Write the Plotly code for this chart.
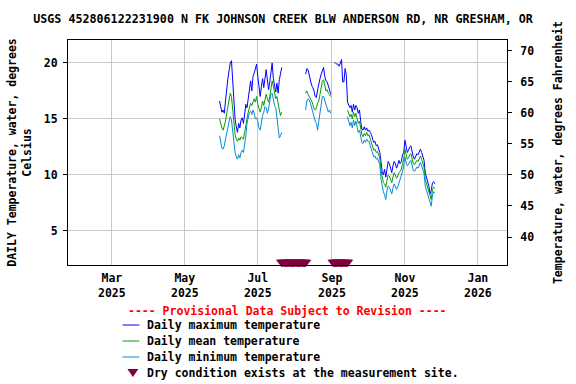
import pandas as pd
import plotly.graph_objects as go

TITLE = "USGS 452806122231900 N FK JOHNSON CREEK BLW ANDERSON RD, NR GRESHAM, OR"

# ---------------- data (daily values, degrees Celsius) ----------------
seg1_start = "2025-05-30"
seg1_max = [16.6, 16.0, 15.6, 15.8, 15.5, 16.6, 17.8, 18.6, 19.3, 20.0,
            20.2, 18.4, 16.6, 15.0, 14.3, 13.8, 14.6, 14.2, 14.9, 15.1,
            14.6, 15.5, 16.3, 16.0, 17.0, 17.6, 18.4, 17.5, 18.8, 19.1,
            19.5, 19.9, 18.8, 17.6, 17.0, 17.9, 18.6, 17.8, 18.9, 19.4,
            18.5, 17.6, 18.3, 19.5, 20.0, 18.6, 18.0, 17.4, 18.2, 17.3,
            18.5, 19.0, 19.6]
seg1_mean = [15.0, 14.5, 14.2, 14.0, 14.3, 14.8, 15.5, 16.2, 16.8, 17.3,
             17.0, 15.8, 14.5, 13.6, 13.2, 13.0, 13.3, 13.1, 13.4, 13.3,
             13.2, 13.8, 14.6, 15.0, 15.6, 15.9, 16.4, 16.2, 16.6, 16.8,
             16.5, 17.0, 16.3, 15.8, 15.6, 16.0, 16.6, 16.2, 16.8, 17.2,
             16.8, 16.5, 17.0, 17.8, 18.4, 17.9, 17.4, 16.8, 17.0, 16.2,
             15.8, 15.3, 15.6]
seg1_min = [13.5, 12.8, 12.4, 12.3, 12.6, 13.2, 13.9, 14.2, 14.8, 15.2,
            14.9, 13.8, 12.8, 12.0, 11.6, 11.4, 11.8, 11.5, 12.0, 12.2,
            12.0, 12.6, 13.5, 14.6, 15.2, 15.6, 15.7, 15.4, 15.8, 15.5,
            15.0, 15.1, 14.8, 14.2, 14.0, 14.8, 15.3, 15.6, 16.1, 16.0,
            15.5, 15.9, 16.6, 17.2, 17.3, 16.5, 16.2, 16.0, 15.0, 14.0,
            13.3, 13.5, 13.8]

seg2_start = "2025-08-10"
seg2_max = [19.0, 19.5, 19.4, 18.9, 18.4, 18.0, 17.8, 17.5, 17.0, 16.9,
            17.6, 18.2, 18.6, 19.0, 19.4, 19.6, 18.8, 18.4, 18.3, 17.8,
            17.6, 17.2]
seg2_mean = [17.3, 17.5, 17.2, 17.0, 16.9, 16.6, 16.3, 15.9, 15.8, 16.0,
             16.4, 16.6, 17.2, 17.8, 18.4, 18.5, 17.9, 17.5, 17.6, 17.3,
             17.2, 17.0]
seg2_min = [15.8, 16.6, 16.8, 16.7, 16.4, 16.0, 15.4, 15.0, 14.8, 14.6,
            14.0, 14.8, 15.6, 16.4, 17.0, 17.0, 16.6, 16.3, 15.8, 15.6,
            15.8, 15.5]

seg3_max_start = "2025-09-03"
seg3_max = [20.0, 20.0, 19.9, 19.9, 19.7, 20.0, 20.3, 18.3, 18.3, 19.5, 18.9,
            16.5, 16.2, 16.0, 16.2, 15.6, 16.3, 15.8, 16.2, 16.0, 15.5, 15.8,
            14.8, 14.1, 14.0, 14.3, 14.0, 14.2,
            13.9, 14.0, 13.8, 13.6, 13.2, 12.9, 13.0, 12.6, 12.7, 12.3,
            12.0, 11.2, 10.3, 10.0, 10.5, 9.8, 10.4, 11.2, 11.0, 10.6,
            10.2, 10.8, 11.2, 11.0, 10.6, 10.9, 11.3, 11.0, 11.2, 11.8, 12.0,
            13.1, 12.3, 12.0, 12.2, 12.5, 12.6, 12.0, 11.6, 11.4, 11.7,
            11.9, 11.8, 12.1, 12.3, 12.0, 11.6, 11.3, 10.2, 9.8, 9.5,
            9.0, 8.3, 8.6, 9.3, 9.4, 9.2]
seg3_start = "2025-09-14"
seg3_mean = [15.8, 15.5, 15.2, 15.4, 15.0, 15.6, 15.2, 15.5, 15.0, 14.6,
             14.8, 14.0, 13.6, 13.4, 13.7, 13.5, 13.8,
             13.5, 13.6, 13.2, 12.9, 12.5, 12.2, 12.3, 12.0, 12.1, 11.8,
             11.5, 10.4, 9.7, 9.3, 9.2, 8.9, 9.5, 10.0, 9.9, 9.6,
             9.3, 9.8, 10.2, 10.0, 9.7, 9.9, 10.2, 10.3, 10.5, 11.0, 11.4,
             12.3, 11.7, 11.4, 11.5, 11.8, 11.9, 11.4, 11.0, 10.9, 11.1,
             11.3, 11.2, 11.5, 11.7, 11.4, 11.0, 10.7, 9.6, 9.2, 8.9,
             8.4, 8.0, 7.8, 8.7, 8.9, 8.8]
seg3_min = [15.2, 14.8, 14.4, 14.7, 14.2, 14.9, 14.4, 14.8, 14.2, 13.8,
            14.0, 13.2, 12.9, 12.8, 13.1, 12.9, 13.2,
            13.0, 13.0, 12.6, 12.3, 11.9, 11.6, 11.7, 11.4, 11.5, 11.2,
            10.9, 9.6, 8.9, 8.5, 8.2, 7.8, 8.6, 9.0, 8.9, 8.6,
            8.3, 8.8, 9.2, 9.0, 8.7, 8.9, 9.2, 9.5, 9.8, 10.3, 10.8,
            11.6, 11.1, 10.8, 10.9, 11.2, 11.3, 10.8, 10.4, 10.3, 10.5,
            10.7, 10.6, 10.9, 11.1, 10.8, 10.4, 10.1, 9.0, 8.6, 8.3,
            7.8, 7.4, 7.2, 8.2, 8.5, 8.4]

# days when the site was dry
dry_periods = [("2025-07-21", "2025-08-10"), ("2025-09-02", "2025-09-14")]
dry_level = 2.2

x_range = ["2025-01-23 08:00", "2026-01-25 08:00"]
x_tick_dates = ["2025-03-01", "2025-05-01", "2025-07-01", "2025-09-01",
                "2025-11-01", "2026-01-01"]
x_tick_labels = ["Mar<br>2025", "May<br>2025", "Jul<br>2025", "Sep<br>2025",
                 "Nov<br>2025", "Jan<br>2026"]
c_range = [1.95, 22.05]
c_ticks = [5, 10, 15, 20]
f_ticks = [40, 45, 50, 55, 60, 65, 70]

legend_labels = ["Daily maximum temperature", "Daily mean temperature",
                 "Daily minimum temperature",
                 "Dry condition exists at the measurement site."]

# ---------------- build series ----------------
def series(parts):
    s = pd.concat([pd.Series(v, index=pd.date_range(start, periods=len(v), freq="D"))
                   for start, v in parts])
    full = pd.date_range(s.index.min(), s.index.max(), freq="D")
    return s.reindex(full)

def as_list(s):
    return [None if pd.isna(v) else float(v) for v in s.values]

s_max = series([(seg1_start, seg1_max), (seg2_start, seg2_max), (seg3_max_start, seg3_max)])
s_mean = series([(seg1_start, seg1_mean), (seg2_start, seg2_mean), (seg3_start, seg3_mean)])
s_min = series([(seg1_start, seg1_min), (seg2_start, seg2_min), (seg3_start, seg3_min)])

dry_days = pd.DatetimeIndex([])
for a, b in dry_periods:
    dry_days = dry_days.append(pd.date_range(a, b, freq="D"))

C_MAX = "#0000ff"
C_MEAN = "#00a000"
C_MIN = "#0a88d6"
C_DRY = "#800040"
FONT = "DejaVu Sans Mono"

fig = go.Figure()
for s, name, col in [(s_max, legend_labels[0], C_MAX),
                     (s_mean, legend_labels[1], C_MEAN),
                     (s_min, legend_labels[2], C_MIN)]:
    fig.add_trace(go.Scatter(x=s.index, y=as_list(s), mode="lines", name=name,
                             line=dict(color=col, width=1), connectgaps=False,
                             showlegend=False))
# same mean series in Fahrenheit on the right-hand axis (invisible, keeps axis active)
fig.add_trace(go.Scatter(x=s_mean.index,
                         y=[None if v is None else v * 1.8 + 32 for v in as_list(s_mean)],
                         mode="lines", yaxis="y2", opacity=0, hoverinfo="skip",
                         showlegend=False, line=dict(width=0), name="mean (F)"))
fig.add_trace(go.Scatter(x=dry_days, y=[dry_level] * len(dry_days), mode="markers",
                         name=legend_labels[3], showlegend=False, cliponaxis=False,
                         marker=dict(symbol="triangle-down", size=10, color=C_DRY,
                                     line=dict(width=0))))

W, H = 576, 384
L, R, T, B = 64, 507, 40, 265

def px(x, y):
    return (x - L) / (R - L), (B - y) / (B - T)

font = dict(family=FONT, size=11.5, color="black", weight="bold")

annotations = []
xr, yr = px(285.5, 311)
annotations.append(dict(x=xr, y=yr, xref="paper", yref="paper", showarrow=False,
                        xanchor="center", yanchor="middle",
                        text="---- Provisional Data Subject to Revision ----",
                        font=dict(family=FONT, size=11.5, color="red", weight="bold")))
rows_y = [325, 341, 357, 373]
shapes = []
for lab, yy in zip(legend_labels, rows_y):
    ax, ay = px(142, yy)
    annotations.append(dict(x=ax, y=ay, xref="paper", yref="paper", showarrow=False,
                            xanchor="left", yanchor="middle", text=lab, font=font))
for col, yy in zip([C_MAX, C_MEAN, C_MIN], rows_y[:3]):
    x0, y0 = px(119, yy)
    x1, _ = px(136, yy)
    shapes.append(dict(type="line", xref="paper", yref="paper", x0=x0, x1=x1, y0=y0, y1=y0,
                       line=dict(color=col, width=1)))
tx0, ty0 = px(124, 369)
tx1, _ = px(135, 369)
txm, ty1 = px(129.5, 377)
shapes.append(dict(type="path", xref="paper", yref="paper",
                   path=f"M {tx0},{ty0} L {tx1},{ty0} L {txm},{ty1} Z",
                   fillcolor=C_DRY, line=dict(width=0)))

fig.update_layout(
    width=W, height=H,
    margin=dict(l=L, r=W - R, t=T, b=H - B, pad=0),
    paper_bgcolor="white", plot_bgcolor="white",
    font=font,
    title=dict(text=TITLE, x=283 / W, xanchor="center", y=1 - 19 / H, yanchor="middle",
               yref="container", xref="container",
               font=dict(family=FONT, size=11.7, weight="bold")),
    showlegend=False,
    annotations=annotations,
    shapes=shapes,
    xaxis=dict(type="date", range=x_range, tickvals=x_tick_dates, ticktext=x_tick_labels,
               showgrid=True, gridcolor="#c8c8c8", gridwidth=1, showline=True,
               linecolor="black", linewidth=1, mirror=True, ticks="", zeroline=False,
               tickfont=font, ticklabelstandoff=2),
    yaxis=dict(range=c_range, tickvals=c_ticks, showgrid=True, gridcolor="#c8c8c8",
               gridwidth=1, showline=True, linecolor="black", linewidth=1, mirror=True,
               ticks="outside", ticklen=4, tickcolor="black", zeroline=False,
               tickfont=font, ticklabelstandoff=3,
               title=dict(text="DAILY Temperature, water, degrees<br>Celsius",
                          font=font, standoff=9)),
    yaxis2=dict(range=[c * 1.8 + 32 for c in c_range], tickvals=f_ticks, overlaying="y",
                side="right", anchor="x", showgrid=False, showline=True, linecolor="black",
                linewidth=1, ticks="outside", ticklen=4, tickcolor="black", zeroline=False,
                tickfont=font, ticklabelstandoff=6,
                title=dict(text="Temperature, water, degrees Fahrenheit", font=font,
                           standoff=20)),
)

fig.write_html("out.html", config={"displayModeBar": False},
               post_script="document.body.style.margin='0';document.body.style.overflow='hidden';")
